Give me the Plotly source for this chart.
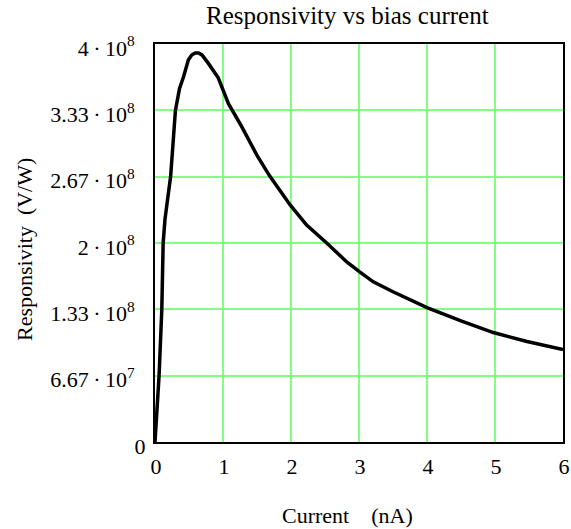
import plotly.graph_objects as go

current_nA = [0.0, 0.03, 0.06, 0.10, 0.12, 0.147, 0.19, 0.23, 0.30, 0.33, 0.36, 0.42,
              0.49, 0.54, 0.59, 0.64, 0.69, 0.78, 0.93, 1.08, 1.15, 1.275, 1.50, 1.69,
              1.99, 2.23, 2.525, 2.82, 3.01, 3.21, 3.50, 4.0, 4.49, 4.975, 5.47, 6.0]
responsivity = [0.0, 3.4e7, 6.67e7, 1.33e8, 2.0e8, 2.24e8, 2.45e8, 2.67e8, 3.33e8,
                3.47e8, 3.55e8, 3.67e8, 3.84e8, 3.89e8, 3.91e8, 3.91e8, 3.89e8, 3.81e8,
                3.66e8, 3.40e8, 3.32e8, 3.17e8, 2.88e8, 2.67e8, 2.38e8, 2.18e8, 2.0e8,
                1.81e8, 1.71e8, 1.61e8, 1.51e8, 1.35e8, 1.22e8, 1.10e8, 1.01e8, 0.93e8]

y_tickvals = [0, 4e8 / 6, 8e8 / 6, 2e8, 16e8 / 6, 20e8 / 6, 4e8]
y_ticktext = ["0",
              "6.67\u2009·\u200910<sup>7</sup>\u00a0\u00a0",
              "1.33\u2009·\u200910<sup>8</sup>\u00a0\u00a0",
              "2\u2009·\u200910<sup>8</sup>\u00a0\u00a0",
              "2.67\u2009·\u200910<sup>8</sup>\u00a0\u00a0",
              "3.33\u2009·\u200910<sup>8</sup>\u00a0\u00a0",
              "4\u2009·\u200910<sup>8</sup>\u00a0\u00a0"]
x_tickvals = [0, 1, 2, 3, 4, 5, 6]
x_ticktext = ["0", "1", "2", "3", "4", "5", "6"]

font = "Liberation Serif, Times New Roman, serif"

# plot area pixel geometry
L, R, T, B = 155, 8, 44, 87
W, H = 571, 529
pw, ph = W - L - R, H - T - B


def px2x(px):
    return (px - L) / pw


def py2y(py):
    return (H - B - py) / ph


fig = go.Figure()
fig.add_trace(go.Scatter(x=current_nA, y=responsivity, mode="lines",
                         line=dict(color="black", width=3.5), hoverinfo="skip"))

fig.update_layout(
    width=W, height=H,
    margin=dict(l=L, r=R, t=T, b=B),
    paper_bgcolor="white", plot_bgcolor="white",
    showlegend=False,
    font=dict(family=font, size=22, color="black"),
    xaxis=dict(range=[0, 6], tickvals=x_tickvals, ticktext=x_ticktext,
               showgrid=True, gridcolor="#80ff80", gridwidth=2,
               showline=True, linecolor="black", linewidth=2, mirror=True,
               ticks="", zeroline=False, ticklabelstandoff=4, ticklabelshift=1,
               automargin=False, tickfont=dict(family=font, size=22)),
    yaxis=dict(range=[0, 4e8], tickvals=y_tickvals, ticktext=y_ticktext,
               showgrid=True, gridcolor="#80ff80", gridwidth=2,
               showline=True, linecolor="black", linewidth=2, mirror=True,
               ticks="", zeroline=False, ticklabelstandoff=3, ticklabelshift=4,
               automargin=False, tickfont=dict(family=font, size=22)),
    annotations=[
        dict(text="Responsivity vs bias current", xref="paper", yref="paper",
             x=px2x(347.5), y=py2y(16), xanchor="center", yanchor="middle",
             showarrow=False, font=dict(family=font, size=25)),
        dict(text="Current &nbsp; &nbsp;(nA)", xref="paper", yref="paper",
             x=px2x(347.5), y=py2y(515), xanchor="center", yanchor="middle",
             showarrow=False, font=dict(family=font, size=22)),
        dict(text="Responsivity &nbsp;(V/W)", xref="paper", yref="paper",
             x=px2x(24), y=py2y(250), xanchor="center", yanchor="middle",
             textangle=-90, showarrow=False, font=dict(family=font, size=22)),
    ],
)

fig.write_html("out.html")
